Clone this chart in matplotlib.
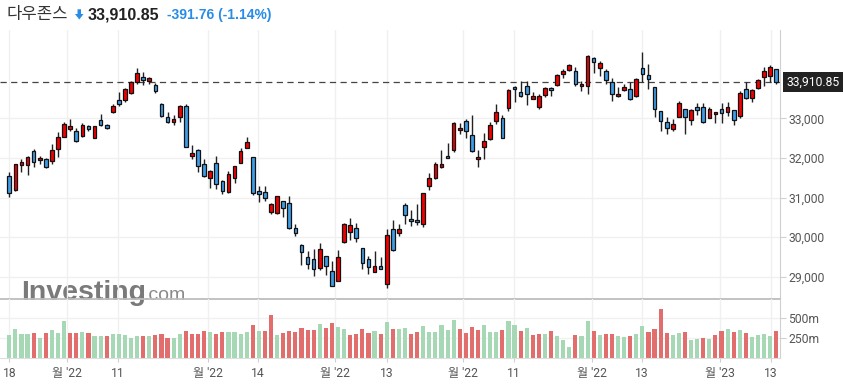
import matplotlib
matplotlib.use("Agg")
import matplotlib.pyplot as plt
from matplotlib.patches import Polygon

# ---------------- data ----------------
title = "다우존스"
last_price = 33910.85
change = -391.76
change_pct = -1.14

opens = [31552, 31182, 31830, 31830, 32175, 31940, 31965, 31914, 32217, 32537,
         32739, 32680, 32563, 32798, 32512, 32950, 32824, 33152, 33455, 33455,
         33649, 33909, 34036, 33952, 33842, 33362, 33026, 32916, 33042, 33312,
         32058, 32201, 31839, 31485, 31864, 31409, 31148, 31502, 31881, 32260,
         32015, 31157, 31132, 30643, 30601, 30904, 30854, 30222, 29793, 29498,
         29439, 29229, 29515, 29145, 28892, 29869, 30121, 30222, 29717, 29439,
         29120, 29263, 28808, 30197, 30096, 30812, 30458, 30424, 30323, 31283,
         31485, 31763, 32058, 32201, 32697, 32933, 32571, 31965, 32285, 32487,
         32941, 33009, 33270, 33800, 33665, 33808, 33497, 33295, 33598, 33766,
         33834, 34111, 34221, 34187, 33808, 33817, 34516, 34271, 34196, 33926,
         33556, 33707, 33749, 33556, 34263, 34086, 33783, 33177, 32908, 32739,
         33042, 33228, 32967, 33287, 33287, 33017, 33101, 33228, 33169, 33202,
         33068, 33733, 33522, 33758, 34053, 34078, 34238]
highs = [31653, 31850, 31965, 32049, 32226, 32049, 31990, 32344, 32647, 32916,
         32975, 32765, 32874, 32824, 32810, 33101, 32866, 33354, 33657, 33775,
         33952, 34280, 34162, 34036, 33884, 33375, 33160, 33084, 33329, 33354,
         32335, 32226, 31965, 31696, 32049, 31435, 31670, 31800, 32243, 32520,
         32025, 31292, 31292, 30871, 31050, 30915, 31039, 30332, 29818, 29650,
         29692, 29844, 29525, 29398, 29675, 30349, 30475, 30349, 29730, 29524,
         29650, 29498, 30197, 30433, 30332, 30854, 30685, 30837, 31123, 31620,
         31898, 32201, 32386, 32908, 32891, 32975, 33076, 32201, 32622, 32908,
         33362, 33076, 33733, 33817, 33952, 33952, 33674, 33606, 33800, 33800,
         34120, 34255, 34381, 34288, 33943, 34600, 34558, 34457, 34255, 34010,
         33783, 33867, 33918, 34019, 34684, 34372, 33795, 33190, 33042, 32983,
         33430, 33240, 33236, 33379, 33379, 33287, 33170, 33379, 33404, 33215,
         33699, 33926, 33733, 33985, 34305, 34347, 34255]
lows = [31005, 31170, 31653, 31561, 31763, 31839, 31738, 31839, 32015, 32521,
        32672, 32403, 32537, 32672, 32500, 32807, 32722, 33140, 33303, 33421,
        33615, 33859, 33834, 33859, 33632, 33026, 32874, 32840, 32899, 32270,
        31982, 31653, 31527, 31249, 31216, 31081, 31123, 31359, 31870, 32250,
        31056, 30896, 30913, 30584, 30590, 30500, 30210, 30029, 29296, 29187,
        29019, 29170, 29044, 28755, 28880, 29860, 29928, 29886, 29196, 29069,
        29110, 29187, 28707, 29641, 30029, 30332, 30281, 30307, 30248, 31182,
        31460, 31750, 31995, 32150, 32605, 32495, 32155, 31763, 31965, 32453,
        32857, 32500, 33177, 33404, 33545, 33337, 33490, 33244, 33547, 33573,
        33825, 34019, 34204, 33817, 33682, 33606, 34137, 34069, 33867, 33438,
        33539, 33682, 33463, 33545, 33918, 33733, 33042, 32672, 32596, 32672,
        33030, 32596, 32824, 33093, 32888, 33005, 32882, 32882, 33051, 32824,
        33017, 33497, 33421, 33733, 33817, 33926, 33859]
closes = [31106, 31839, 31889, 32032, 31906, 31999, 31780, 32201, 32521, 32857,
          32798, 32419, 32824, 32739, 32798, 32840, 32765, 33303, 33354, 33749,
          33909, 34137, 33977, 34010, 33699, 33068, 32916, 32975, 33303, 32285,
          32116, 31805, 31536, 31662, 31334, 31174, 31594, 31788, 32175, 32394,
          31123, 31098, 30980, 30837, 31039, 30727, 30222, 30096, 29616, 29313,
          29187, 29692, 29271, 28766, 29507, 30332, 30307, 29970, 29339, 29246,
          29263, 29204, 30046, 29667, 30197, 30559, 30399, 30374, 31106, 31502,
          31839, 31839, 32007, 32882, 32756, 32672, 32167, 32015, 32428, 32824,
          33152, 32512, 33716, 33749, 33556, 33606, 33556, 33556, 33758, 33707,
          34095, 34196, 34339, 33859, 33867, 34583, 34415, 34406, 33968, 33615,
          33615, 33783, 33480, 34002, 34120, 33985, 33228, 32924, 32765, 32857,
          33388, 33042, 33202, 33219, 32899, 33228, 33160, 33143, 33287, 32950,
          33640, 33522, 33716, 33960, 34187, 34288, 33910.85]
volumes = [279, 358, 292, 292, 304, 246, 304, 346, 304, 458,
           304, 304, 317, 304, 267, 267, 267, 292, 292, 279,
           242, 267, 267, 267, 279, 292, 246, 246, 292, 333,
           292, 292, 333, 321, 292, 321, 321, 321, 292, 321,
           404, 333, 333, 533, 279, 304, 333, 321, 367, 346,
           346, 417, 371, 433, 383, 358, 279, 292, 358, 304,
           333, 292, 446, 358, 358, 371, 292, 317, 392, 317,
           317, 404, 342, 467, 354, 304, 379, 342, 404, 317,
           317, 342, 454, 404, 329, 367, 279, 292, 292, 329,
           267, 217, 129, 279, 267, 454, 329, 279, 292, 292,
           267, 254, 267, 292, 392, 317, 354, 604, 304, 279,
           304, 317, 217, 229, 242, 229, 279, 329, 354, 317,
           342, 304, 254, 279, 292, 267, 329]
vol_dirs = list("ggggrgrggg" "rrgrggrggg" "ggrgrrrggr" "rrrgrrgggg"
                "rgrrgrrrrr" "rgrrggrrrr" "grgrggrrgg" "ggggrrrrgg"
                "grggrgrrgr" "gggrggrgrr" "ggrggrrrrg" "grggrgrrgr"
                "grggggr")
xtick_pos = [0, 9.48, 17.86, 32.64, 40.86, 53.51, 62.05, 74.53, 82.91,
             95.73, 103.94, 116.76, 125.13]
xtick_labels = ["18", "월 '22", "11", "월 '22", "14", "월 '22", "13",
                "월 '22", "11", "월 '22", "13", "월 '23", "13"]
price_ticks = [29000, 30000, 31000, 32000, 33000]
vol_ticks = [250, 500]

# ---------------- style ----------------
W, H = 845, 389
UP, DOWN = "#f00000", "#3f9de6"
VUP, VDOWN = "#a6d8b5", "#e26d6d"
GRID = "#f0f0f0"
TXT = "#555555"
tick_font = ["Roboto", "Noto Sans CJK KR", "DejaVu Sans"]

fig = plt.figure(figsize=(W / 100, H / 100), dpi=100)


def fx(x):
    return x / W


def fy(y):
    return 1 - y / H


ax = fig.add_axes([0, fy(299), fx(780), (299 - 30) / H])
axv = fig.add_axes([0, fy(357.7), fx(780), (357.7 - 299) / H])
for a in (ax, axv):
    a.patch.set_alpha(0)
    a.set_xlim(-1.528, 126.61)
    for s in ("left", "top"):
        a.spines[s].set_visible(False)
    a.spines["right"].set_color("#d0d0d0")
    a.yaxis.tick_right()
    a.set_xticks(xtick_pos)
    a.grid(True, axis="both", color=GRID, lw=1)
    a.set_axisbelow(True)

ax.set_ylim(28437, 35230)
ax.spines["bottom"].set_color("#bdbdbd")
ax.spines["bottom"].set_linewidth(1.3)
ax.set_yticks(price_ticks)
ax.set_yticklabels([f"{v:,}" for v in price_ticks])
ax.tick_params(axis="x", length=0, labelbottom=False)
ax.tick_params(axis="y", length=4, color="#d0d0d0", pad=2, labelsize=8.7,
               labelcolor=TXT)
for t in ax.get_yticklabels():
    t.set_family(tick_font)
    t.set_y(t.get_position()[1])

axv.set_ylim(0, 734)
axv.spines["bottom"].set_color("#dddddd")
axv.set_yticks(vol_ticks)
axv.set_yticklabels([f"{v}m" for v in vol_ticks])
axv.tick_params(axis="y", length=4, color="#d0d0d0", pad=2, labelsize=8.7,
                labelcolor=TXT)
axv.set_xticklabels(xtick_labels)
axv.tick_params(axis="x", length=3, color="#d0d0d0", pad=4, labelsize=8.7,
                labelcolor=TXT)
for t in axv.get_yticklabels() + axv.get_xticklabels():
    t.set_family(tick_font)

# ---------------- candles ----------------
idx = list(range(len(opens)))
ax.vlines(idx, lows, highs, color="#222222", lw=1, zorder=2)
bottoms = [min(o, c) for o, c in zip(opens, closes)]
heights = [max(abs(c - o), 45) for o, c in zip(opens, closes)]
colors = [UP if c > o else DOWN for o, c in zip(opens, closes)]
ax.bar(idx, heights, bottom=bottoms, width=0.6, color=colors,
       edgecolor="#111111", linewidth=0.9, zorder=3)
ax.axhline(last_price, color="#444444", lw=0.9, ls=(0, (5, 3.5)), zorder=1)
ax.annotate(f"{last_price:,.2f}", xy=(1, last_price),
            xycoords=("axes fraction", "data"), xytext=(4.5, 0),
            textcoords="offset points", ha="left", va="center",
            color="white", fontsize=8.7, family=tick_font,
            bbox=dict(boxstyle="square,pad=0.3", fc="#222222", ec="none"),
            annotation_clip=False)

# ---------------- volume ----------------
vcolors = [VUP if d == "g" else VDOWN for d in vol_dirs]
axv.bar(idx, volumes, width=0.68, color=vcolors, zorder=2)

# ---------------- header ----------------
fig.text(fx(7), fy(15), title, fontsize=12, color="#333333",
         family=["Noto Sans CJK KR", "DejaVu Sans"], va="center", ha="left")
arrow = Polygon([(fx(77.5), fy(9.3)), (fx(81), fy(9.3)), (fx(81), fy(14)),
                 (fx(83.5), fy(14)), (fx(79.3), fy(19.5)), (fx(75), fy(14)),
                 (fx(77.5), fy(14))], closed=True, transform=fig.transFigure,
                fc="#288ce6", ec="none")
fig.patches.append(arrow)
fig.text(fx(88), fy(15.5), f"{last_price:,.2f}", fontsize=11.5,
         fontweight="bold", color="#222222", family="Liberation Sans",
         va="center", ha="left")
fig.text(fx(167), fy(15.5), f"{change:,.2f} ({change_pct:.2f}%)",
         fontsize=10, fontweight="bold", color="#288ce6",
         family="Liberation Sans", va="center", ha="left")

# ---------------- watermark ----------------
wm = fig.text(fx(21), fy(300), "Investing", fontsize=20.5, fontweight="bold",
              color="#7a7a7a", family="Liberation Sans", va="baseline",
              ha="left", zorder=-1)
fig.canvas.draw()
bb = wm.get_window_extent()
fig.text((bb.x1 - 3) / W, fy(300), ".com", fontsize=14, color="#8a8a8a",
         family="Liberation Sans", va="baseline", ha="left", zorder=-1)

fig.savefig("out.png", dpi=100)
